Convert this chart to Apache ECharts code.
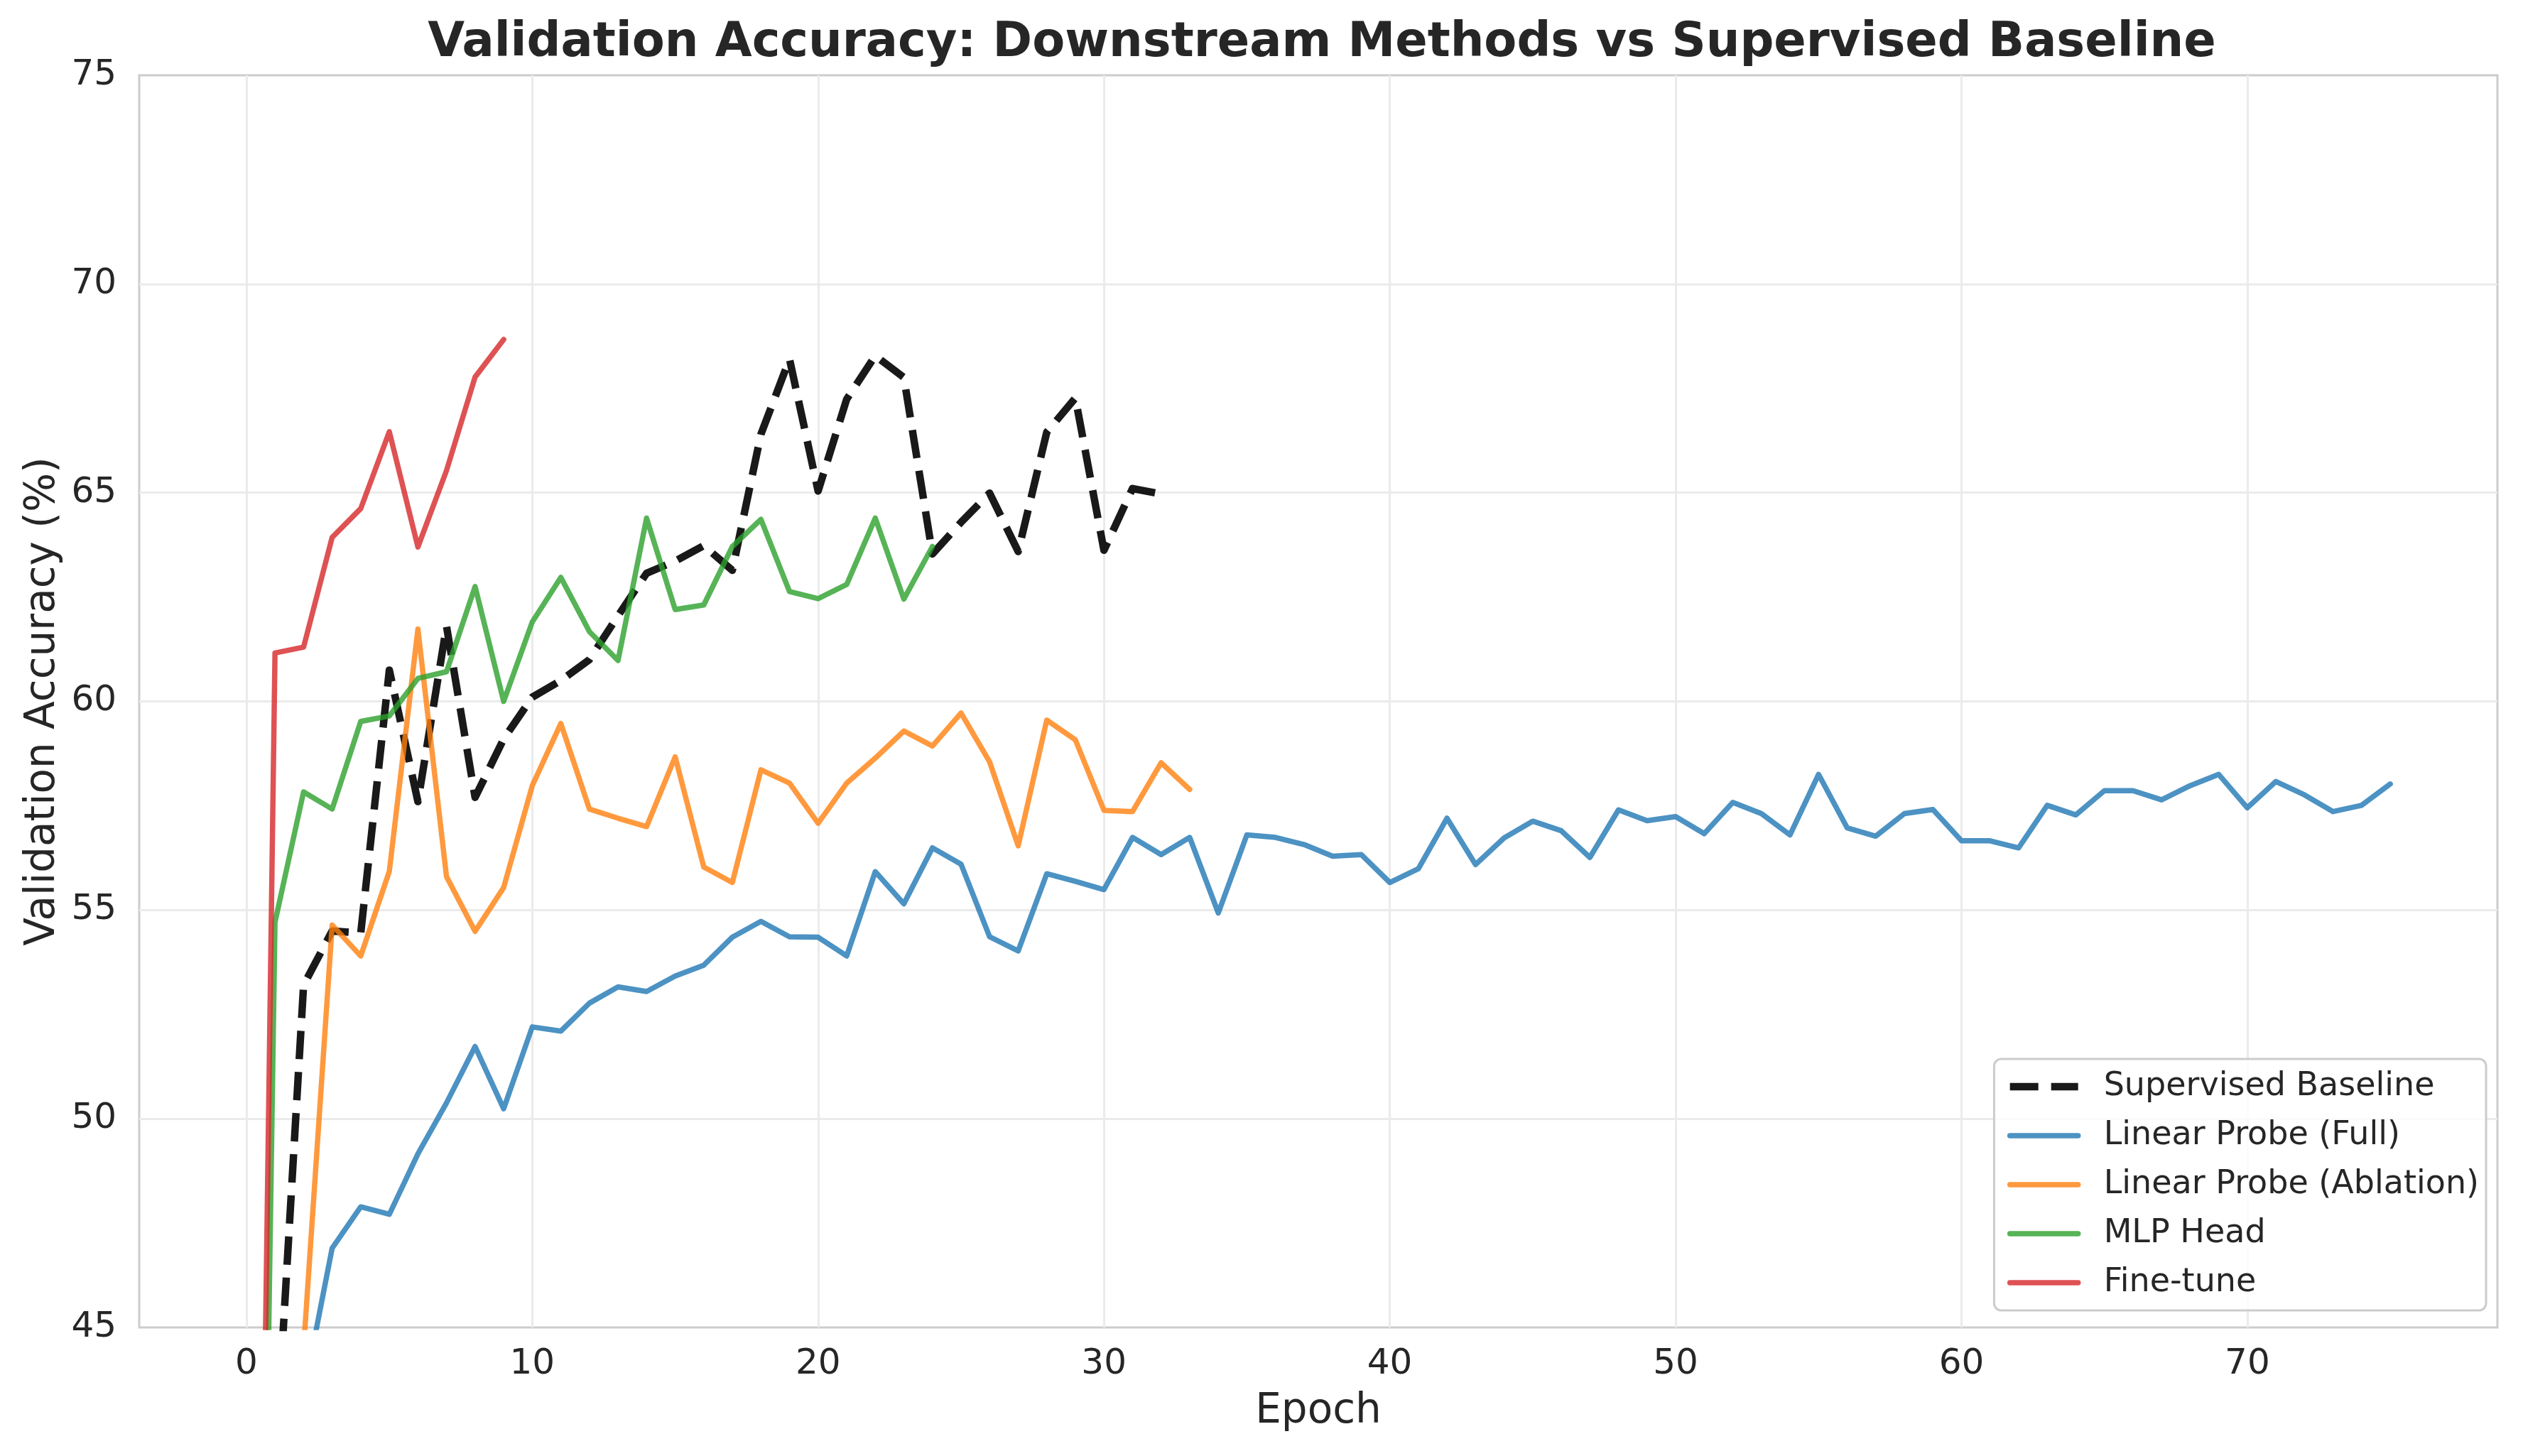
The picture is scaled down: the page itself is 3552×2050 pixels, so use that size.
<!DOCTYPE html>
<html>
<head>
<meta charset="utf-8">
<script src="https://cdn.jsdelivr.net/npm/echarts@6/dist/echarts.min.js"></script>
<style>
  html, body { margin: 0; padding: 0; background: #fff; }
  #main { width: 3552px; height: 2050px; }
</style>
</head>
<body>
<div id="main"></div>
<script>
// series names (legend order)
const seriesNames = ['Supervised Baseline', 'Linear Probe (Full)', 'Linear Probe (Ablation)', 'MLP Head', 'Fine-tune'];

// validation accuracy per epoch, index = epoch
const supervisedBaseline = [10, 41.6, 53.2, 54.5, 54.45, 60.75, 57.6, 61.8, 57.7, 59.1,
  60.1, 60.5, 61.0, 62.05, 63.07, 63.36, 63.73, 63.14, 66.4, 68.2,
  65.04, 67.24, 68.28, 67.76, 63.53, 64.29, 64.99, 63.59, 66.45, 67.27,
  63.62, 65.1, 64.97];
const linearProbeFull = [10, 30, 43.4, 46.9, 47.89, 47.71, 49.16, 50.38, 51.73, 50.24,
  52.2, 52.1, 52.77, 53.16, 53.05, 53.42, 53.68, 54.35, 54.73, 54.36,
  54.35, 53.9, 55.92, 55.15, 56.49, 56.1, 54.36, 54.02, 55.87, 55.69,
  55.49, 56.74, 56.33, 56.74, 54.93, 56.8, 56.74, 56.57, 56.29, 56.33,
  55.66, 55.99, 57.2, 56.09, 56.73, 57.13, 56.9, 56.26, 57.4, 57.14,
  57.24, 56.83, 57.58, 57.31, 56.8, 58.25, 56.97, 56.77, 57.31, 57.41,
  56.66, 56.66, 56.49, 57.51, 57.28, 57.86, 57.86, 57.64, 57.98, 58.25,
  57.45, 58.08, 57.76, 57.36, 57.51, 58.02];
const linearProbeAblation = [10, 25, 44.5, 54.64, 53.9, 55.93, 61.73, 55.8, 54.49, 55.54,
  57.98, 59.47, 57.42, 57.2, 57.0, 58.67, 56.03, 55.66, 58.36, 58.04,
  57.08, 58.04, 58.64, 59.29, 58.93, 59.72, 58.55, 56.54, 59.55, 59.08,
  57.39, 57.36, 58.53, 57.89];
const mlpHead = [10, 54.71, 57.83, 57.42, 59.52, 59.65, 60.55, 60.71, 62.75, 60.0,
  61.9, 62.97, 61.67, 60.98, 64.39, 62.2, 62.31, 63.71, 64.36, 62.63,
  62.46, 62.8, 64.39, 62.45, 63.71];
const fineTune = [12, 61.16, 61.3, 63.93, 64.62, 66.46, 63.7, 65.53, 67.77, 68.67];

const seriesValues = [supervisedBaseline, linearProbeFull, linearProbeAblation, mlpHead, fineTune];
const seriesColors = ['rgba(0,0,0,0.9)', 'rgba(31,119,180,0.8)', 'rgba(255,127,14,0.8)', 'rgba(44,160,44,0.8)', 'rgba(214,39,40,0.8)'];

const series = seriesNames.map((name, idx) => ({
  name: name,
  type: 'line',
  data: seriesValues[idx].map((v, i) => [i, v]),
  showSymbol: false,
  symbol: 'none',
  animation: false,
  color: seriesColors[idx],
  lineStyle: idx === 0
    ? { color: seriesColors[idx], width: 10.5, type: [40, 18], cap: 'butt', join: 'round' }
    : { color: seriesColors[idx], width: 7.5, cap: 'round', join: 'round' }
}));

const textColor = '#262626';
const font = 'DejaVu Sans';

const option = {
  backgroundColor: '#ffffff',
  animation: false,
  title: {
    text: 'Validation Accuracy: Downstream Methods vs Supervised Baseline',
    left: 1856,
    top: 23,
    textAlign: 'center',
    textStyle: { fontFamily: font, fontSize: 67, fontWeight: 'bold', color: textColor }
  },
  grid: {
    left: 196, right: 36, top: 106, bottom: 181,
    show: true, borderColor: '#cccccc', borderWidth: 3,
    outerBoundsMode: 'none'
  },
  legend: {
    data: seriesNames,
    orient: 'vertical',
    right: 52,
    bottom: 205,
    itemWidth: 96,
    itemHeight: 30,
    itemGap: 23,
    padding: [16, 10, 16, 17],
    backgroundColor: 'rgba(255,255,255,0.8)',
    borderColor: '#cccccc',
    borderWidth: 3,
    borderRadius: 10,
    itemStyle: { color: 'rgba(0,0,0,0)', borderColor: 'rgba(0,0,0,0)', borderWidth: 0 },
    lineStyle: { width: 'inherit' },
    textStyle: { fontFamily: font, fontSize: 46, color: textColor, padding: [0, 0, 0, 31] }
  },
  xAxis: {
    type: 'value',
    min: -3.75,
    max: 78.75,
    minInterval: 10,
    maxInterval: 10,
    name: 'Epoch',
    nameLocation: 'middle',
    nameGap: 90,
    nameTextStyle: { fontFamily: font, fontSize: 58, color: textColor },
    axisLine: { show: false },
    axisTick: { show: false },
    axisLabel: { fontFamily: font, fontSize: 50, color: textColor, margin: 27, showMinLabel: false, showMaxLabel: false },
    splitLine: { show: true, showMinLine: false, showMaxLine: false, lineStyle: { color: '#ebebeb', width: 3 } }
  },
  yAxis: {
    type: 'value',
    min: 45,
    max: 75,
    interval: 5,
    name: 'Validation Accuracy (%)',
    nameLocation: 'middle',
    nameGap: 106,
    nameTextStyle: { fontFamily: font, fontSize: 58, color: textColor },
    axisLine: { show: false },
    axisTick: { show: false },
    axisLabel: { fontFamily: font, fontSize: 50, color: textColor, margin: 32 },
    splitLine: { show: true, showMinLine: false, showMaxLine: false, lineStyle: { color: '#ebebeb', width: 3 } }
  },
  series
};

const chartDom = document.getElementById('main');
const myChart = echarts.init(chartDom);
myChart.setOption(option);
</script>
</body>
</html>
